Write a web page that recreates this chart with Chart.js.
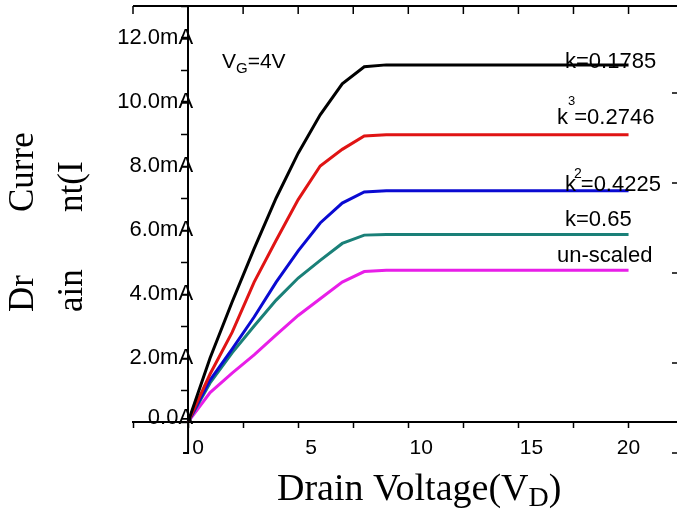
<!DOCTYPE html>
<html>
<head>
<meta charset="utf-8">
<script src="https://cdn.jsdelivr.net/npm/chart.js@4.4.0/dist/chart.umd.min.js"></script>
<style>html,body{margin:0;padding:0;background:#fff;overflow:hidden}</style>
</head>
<body>
<canvas id="chart" width="677" height="510"></canvas>
<script>
'use strict';

// drain voltage (V) and drain current (mA)
let drainVoltage=[0,1,2,3,4,5,6,7,8,9,10,11,12,13,14,15,16,17,18,19,20];
let currentK1785=[0,2.0,3.75,5.42,7.0,8.4,9.6,10.57,11.1,11.16,11.16,11.16,11.16,11.16,11.16,11.16,11.16,11.16,11.16,11.16,11.16];
let currentK3=[0,1.5,2.8,4.37,5.68,6.95,8.0,8.52,8.94,8.98,8.98,8.98,8.98,8.98,8.98,8.98,8.98,8.98,8.98,8.98,8.98];
let currentK2=[0,1.31,2.28,3.28,4.37,5.35,6.22,6.84,7.19,7.23,7.23,7.23,7.23,7.23,7.23,7.23,7.23,7.23,7.23,7.23,7.23];
let currentK065=[0,1.22,2.16,3.0,3.81,4.5,5.05,5.58,5.84,5.86,5.86,5.86,5.86,5.86,5.86,5.86,5.86,5.86,5.86,5.86,5.86];
let currentUnscaled=[0,0.92,1.53,2.1,2.72,3.33,3.85,4.37,4.7,4.74,4.74,4.74,4.74,4.74,4.74,4.74,4.74,4.74,4.74,4.74,4.74];

// axis ticks
let xTickValues=[-2.5,0,2.5,5,7.5,10,12.5,15,17.5,20];
let xTickLabels=['','0','','5','','10','','15','','20'];
let yTickValues=[0,1,2,3,4,5,6,7,8,9,10,11,12,13];
let yTickLabels=['0.0A','','2.0mA','','4.0mA','','6.0mA','','8.0mA','','10.0mA','','12.0mA',''];

let seriesColors=['#000000','#e01414','#0a0ad2','#1a8078','#e81ee8'];
let seriesValues=[currentK1785,currentK3,currentK2,currentK065,currentUnscaled];

let sans='"Liberation Sans", Arial, sans-serif';
let serif='"Liberation Serif", "Times New Roman", serif';

function pieces(ctx,list,x,y){
    // list of [text,size,dy,extra gap]
    let cx=x;
    for(let i=0;i<list.length;i++){
        ctx.font=list[i][1]+'px '+sans;
        ctx.fillText(list[i][0],cx,y+list[i][2]);
        cx+=ctx.measureText(list[i][0]).width+(list[i][3]||0);
    }
}

let extras={
    id:'extras',
    afterDatasetsDraw(chart){
        let ctx=chart.ctx;
        let a=chart.chartArea;
        let xs=chart.scales.x;
        let ys=chart.scales.y;
        ctx.save();
        ctx.strokeStyle='#000';
        ctx.lineWidth=2;
        ctx.beginPath();
        ctx.moveTo(a.left,a.top);
        ctx.lineTo(a.right,a.top);
        ctx.stroke();
        ctx.lineWidth=1.5;
        xs.ticks.forEach(t=>{
            let px=xs.getPixelForValue(t.value);
            ctx.beginPath();
            ctx.moveTo(px,a.top);
            ctx.lineTo(px,a.top+8);
            ctx.stroke();
        });
        // y axis stub under the x axis
        let x0=xs.getPixelForValue(0);
        ctx.lineWidth=2;
        ctx.beginPath();
        ctx.moveTo(x0,a.bottom);
        ctx.lineTo(x0,a.bottom+31);
        ctx.lineTo(x0-5,a.bottom+31);
        ctx.stroke();
        // ticks of the right frame
        ctx.lineWidth=1.5;
        for(let ty=a.bottom+31;ty>a.top;ty-=90){
            ctx.beginPath();
            ctx.moveTo(a.right-5,ty);
            ctx.lineTo(a.right,ty);
            ctx.stroke();
        }

        ctx.fillStyle='#000';
        // y tick labels, sitting over the axis line
        ctx.textAlign='right';
        ctx.textBaseline='middle';
        ctx.font='22px '+sans;
        for(let i=0;i<yTickValues.length;i++){
            if(yTickLabels[i]){
                let py=ys.getPixelForValue(yTickValues[i]);
                ctx.fillText(yTickLabels[i],x0+5,i===0?py-4:py);
            }
        }
        // x tick labels, shifted right of their ticks except the last one
        ctx.textAlign='center';
        ctx.font='21px '+sans;
        for(let i=0;i<xTickValues.length;i++){
            if(xTickLabels[i]){
                let px=xs.getPixelForValue(xTickValues[i]);
                let shift=i===xTickValues.length-1?0:(xTickValues[i]===0?10:13);
                ctx.fillText(xTickLabels[i],px+shift,a.bottom+26);
            }
        }

        ctx.textAlign='left';
        pieces(ctx,[['V',21,0],['G',15,7],['=4V',21,0]],222,62);
        pieces(ctx,[['k=0.1785',22,0]],565,62);
        pieces(ctx,[['k',22,0],['3',13,-17,-1],['=0.2746',22,0]],557,118);
        pieces(ctx,[['k',22,0,-2],['2',14,-11,-1],['=0.4225',22,0]],565,185);
        pieces(ctx,[['k=0.65',22,0]],565,220);
        pieces(ctx,[['un-scaled',22,0]],557,256);

        // y title, broken as in the picture
        ctx.textBaseline='alphabetic';
        ctx.font='35px '+serif;
        let ytitle=[['Dr',33,312],['Curre',33,212],['ain',82,312],['nt(I',82,212]];
        ytitle.forEach(p=>{
            ctx.save();
            ctx.translate(p[1],p[2]);
            ctx.rotate(-Math.PI/2);
            ctx.fillText(p[0],0,0);
            ctx.restore();
        });

        // x title with subscript
        let tx=277;
        ctx.font='38px '+serif;
        ctx.fillText('Drain Voltage(V',tx,500);
        tx+=ctx.measureText('Drain Voltage(V').width;
        ctx.font='28px '+serif;
        ctx.fillText('D',tx,506);
        tx+=ctx.measureText('D').width;
        ctx.font='38px '+serif;
        ctx.fillText(')',tx,500);
        ctx.restore();
    }
};

function renderChart(){
    let datasets=[];
    for(let i=0;i<seriesValues.length;i++){
        datasets.push({
            data:drainVoltage.map((v,j)=>({x:v,y:seriesValues[i][j]})),
            borderColor:seriesColors[i],
            backgroundColor:seriesColors[i],
            borderWidth:3,
            pointRadius:0,
            tension:0,
            fill:false
        });
    }

    new Chart(document.getElementById('chart'),{
        type:'line',
        data:{datasets:datasets},
        options:{
            responsive:false,
            animation:false,
            layout:{padding:{left:133,top:6,right:0,bottom:0}},
            plugins:{legend:{display:false},tooltip:{enabled:false}},
            scales:{
                x:{
                    type:'linear',
                    min:-2.5,
                    max:22.2,
                    position:'bottom',
                    border:{color:'#000',width:2},
                    grid:{drawOnChartArea:false,color:'#000',tickLength:6,tickWidth:1.5},
                    ticks:{display:false},
                    afterBuildTicks:s=>{
                        s.ticks=xTickValues.map(v=>({value:v}));
                    },
                    afterFit:s=>{s.height=88;s.paddingLeft=0;s.paddingRight=0;}
                },
                y:{
                    type:'linear',
                    min:0,
                    max:13,
                    position:{x:0},
                    border:{color:'#000',width:2},
                    grid:{drawOnChartArea:false,color:'#000',tickLength:6,tickWidth:1.5},
                    ticks:{display:false},
                    afterBuildTicks:s=>{
                        s.ticks=yTickValues.map(v=>({value:v}));
                    },
                    afterFit:s=>{s.paddingTop=0;s.paddingBottom=0;}
                }
            }
        },
        plugins:[extras]
    });
}

renderChart();
</script>
</body>
</html>
